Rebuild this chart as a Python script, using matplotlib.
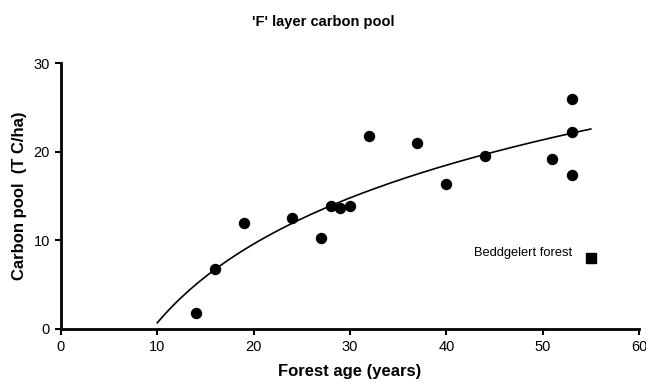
import numpy as np
import matplotlib.pyplot as plt

plt.rcParams['font.family'] = ['Liberation Sans', 'DejaVu Sans']

# forest age (years) and 'F' layer carbon (T C/ha)
age = [14, 16, 19, 24, 27, 28, 29, 30, 32, 37, 40, 44, 51, 53, 53, 53]
carbon = [1.8, 6.8, 12.0, 12.5, 10.2, 13.9, 13.6, 13.9, 21.8, 21.0, 16.4, 19.5, 19.2, 26.0, 22.2, 17.4]

bedd_age = [55]
bedd_carbon = [8.0]

# log trend line, fitted to the points
a, b = np.polyfit(np.log(age), carbon, 1)
xfit = np.linspace(10, 55, 200)
yfit = a * np.log(xfit) + b

fig = plt.figure(figsize=(6.46, 3.83), dpi=100)
ax = fig.add_axes([61/646, 1 - 328.7/383, 578/646, 265.4/383])

ax.plot(xfit, yfit, color='black', lw=1.2)
ax.plot(age, carbon, 'o', color='black', ms=7.2, clip_on=False)
ax.plot(bedd_age, bedd_carbon, 's', color='black', ms=7, clip_on=False)
ax.text(53.1, 8.6, 'Beddgelert forest', fontsize=9.3, ha='right', va='center')

ax.set_xlim(0, 60)
ax.set_ylim(0, 30)
ax.set_xticks([0, 10, 20, 30, 40, 50, 60])
ax.set_yticks([0, 10, 20, 30])
for s in ['top', 'right']:
    ax.spines[s].set_visible(False)
for s in ['left', 'bottom']:
    ax.spines[s].set_linewidth(2)
ax.tick_params(direction='out', length=4, width=1.5, labelsize=10.5, pad=4)

ax.set_xlabel('Forest age (years)', fontsize=12, fontweight='bold', labelpad=7)
ax.set_ylabel('Carbon pool  (T C/ha)', fontsize=12, fontweight='bold', labelpad=5)
fig.text(0.5, 1 - 22/383, "'F' layer carbon pool", fontsize=10.5, fontweight='bold', ha='center', va='center')

fig.savefig('out.png', dpi=100)
